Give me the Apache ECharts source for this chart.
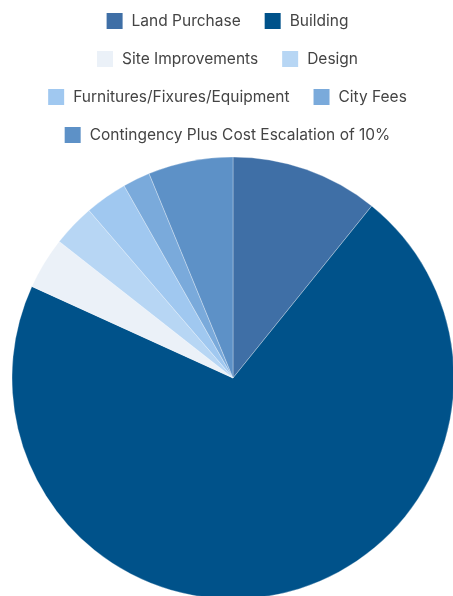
<!DOCTYPE html>
<html lang="en">
<head>
    <meta charset="UTF-8">
    <title>Project Cost Breakdown</title>
    <script src="https://cdn.jsdelivr.net/npm/echarts@6/dist/echarts.min.js"></script>
    <style>
        html, body { margin: 0; padding: 0; background: #fff; }
        #main { width: 453px; height: 596px; }
    </style>
</head>
<body>
<div id="main"></div>
<script>
    // share of total cost (%)
    const categories = [
        'Land Purchase',
        'Building',
        'Site Improvements',
        'Design',
        'Furnitures/Fixures/Equipment',
        'City Fees',
        'Contingency Plus Cost Escalation of 10%'
    ];
    const values = [10.8, 71.0, 3.8, 3.1, 3.1, 2.0, 6.2];
    const colors = ['#3f6fa6', '#00528a', '#ebf1f8', '#b7d6f4', '#a0c8f0', '#7aaadb', '#5d91c7'];

    // legend rows as in the picture
    const legendRows = [
        [categories[0], categories[1]],
        [categories[2], categories[3]],
        [categories[4], categories[5]],
        [categories[6]]
    ];

    let myChart = echarts.init(document.getElementById('main'));
    let option = {
        color: colors,
        animation: false,
        legend: legendRows.map((row, i) => ({
            data: row,
            top: 6 + i * 38,
            left: 'center',
            icon: 'rect',
            itemWidth: 18,
            itemHeight: 18,
            itemGap: 22,
            textStyle: {
                fontFamily: 'Inter',
                fontSize: 15.5,
                color: '#444',
                padding: [0, 0, 0, 3]
            }
        })),
        series: [
            {
                type: 'pie',
                center: [233, 378],
                radius: 221,
                startAngle: 90,
                clockwise: true,
                label: { show: false },
                labelLine: { show: false },
                itemStyle: {
                    borderColor: '#fff',
                    borderWidth: 0.3
                },
                data: categories.map((name, i) => ({ name: name, value: values[i] }))
            }
        ]
    };
    myChart.setOption(option);
</script>
</body>
</html>
